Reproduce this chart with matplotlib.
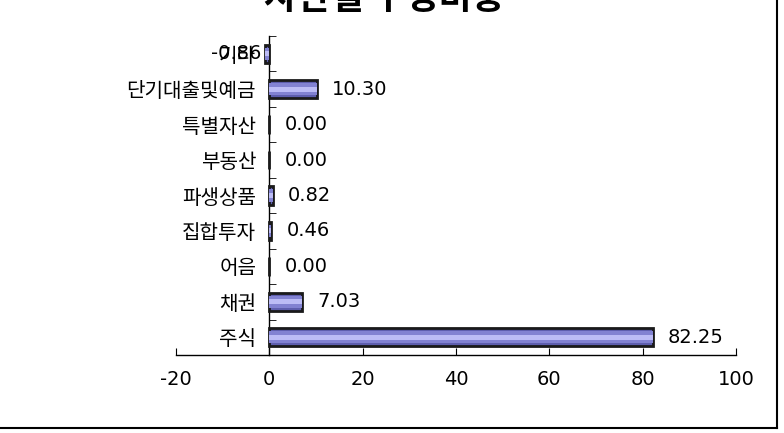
import matplotlib

matplotlib.use("Agg")
import matplotlib.pyplot as plt
from matplotlib.lines import Line2D

categories = ["기타", "단기대출및예금", "특별자산", "부동산", "파생상품", "집합투자", "어음", "채권", "주식"]
values = [-0.86, 10.30, 0.00, 0.00, 0.82, 0.46, 0.00, 7.03, 82.25]
x_ticks = [-20, 0, 20, 40, 60, 80, 100]
title = "자산별 구성비중"

plt.rcParams["font.family"] = ["DejaVu Sans", "Noto Sans CJK KR"]
plt.rcParams["axes.unicode_minus"] = False

W, H = 784, 433
fig = plt.figure(figsize=(W / 100, H / 100), dpi=100)
ax = fig.add_axes([176 / W, 1 - 355 / H, 560 / W, (355 - 36) / H])

y = list(range(len(categories)))
# bevelled look: dark body, lighter bands through the middle
ax.barh(y, values, height=0.52, color="#5e5eae", edgecolor="#1a1a1a", linewidth=2, zorder=3)
ax.barh(y, values, height=0.34, color="#8282d2", linewidth=0, zorder=4)
ax.barh(y, values, height=0.14, color="#bcbcf6", linewidth=0, zorder=5)

for i, v in enumerate(values):
    if v < 0:
        ax.text(v - 0.8, i, f"{v:.2f}", ha="right", va="center", fontsize=14)
    else:
        ax.text(v + 3.2, i, f"{v:.2f}", ha="left", va="center", fontsize=14)

ax.set_xlim(-20, 100)
ax.set_ylim(len(categories) - 0.5, -0.5)
ax.spines["top"].set_visible(False)
ax.spines["right"].set_visible(False)
ax.spines["left"].set_position(("data", 0))
ax.spines["left"].set_linewidth(1.0)
ax.spines["bottom"].set_linewidth(1.0)

ax.set_yticks(y, categories, fontsize=14.5, family="Noto Sans CJK KR")
ax.set_yticks([i - 0.5 for i in range(len(categories) + 1)], minor=True)
ax.tick_params(axis="y", which="major", length=0, pad=9.5)
ax.tick_params(axis="y", which="minor", direction="in", length=5)
ax.set_xticks(x_ticks)
ax.tick_params(axis="x", direction="in", length=5, pad=11, labelsize=14)

# title sits partly above the top edge, as in the source image
fig.text(385 / W, 1 - 17 / H, title, ha="center", va="bottom",
         fontsize=26, fontweight="bold", family="Noto Sans CJK KR")

fig.add_artist(Line2D([0, 777 / W], [1 - 428 / H] * 2, color="black", lw=1.5))
fig.add_artist(Line2D([777 / W] * 2, [1 - 428 / H, 1], color="black", lw=1.5))

fig.savefig("out.png", dpi=100)
